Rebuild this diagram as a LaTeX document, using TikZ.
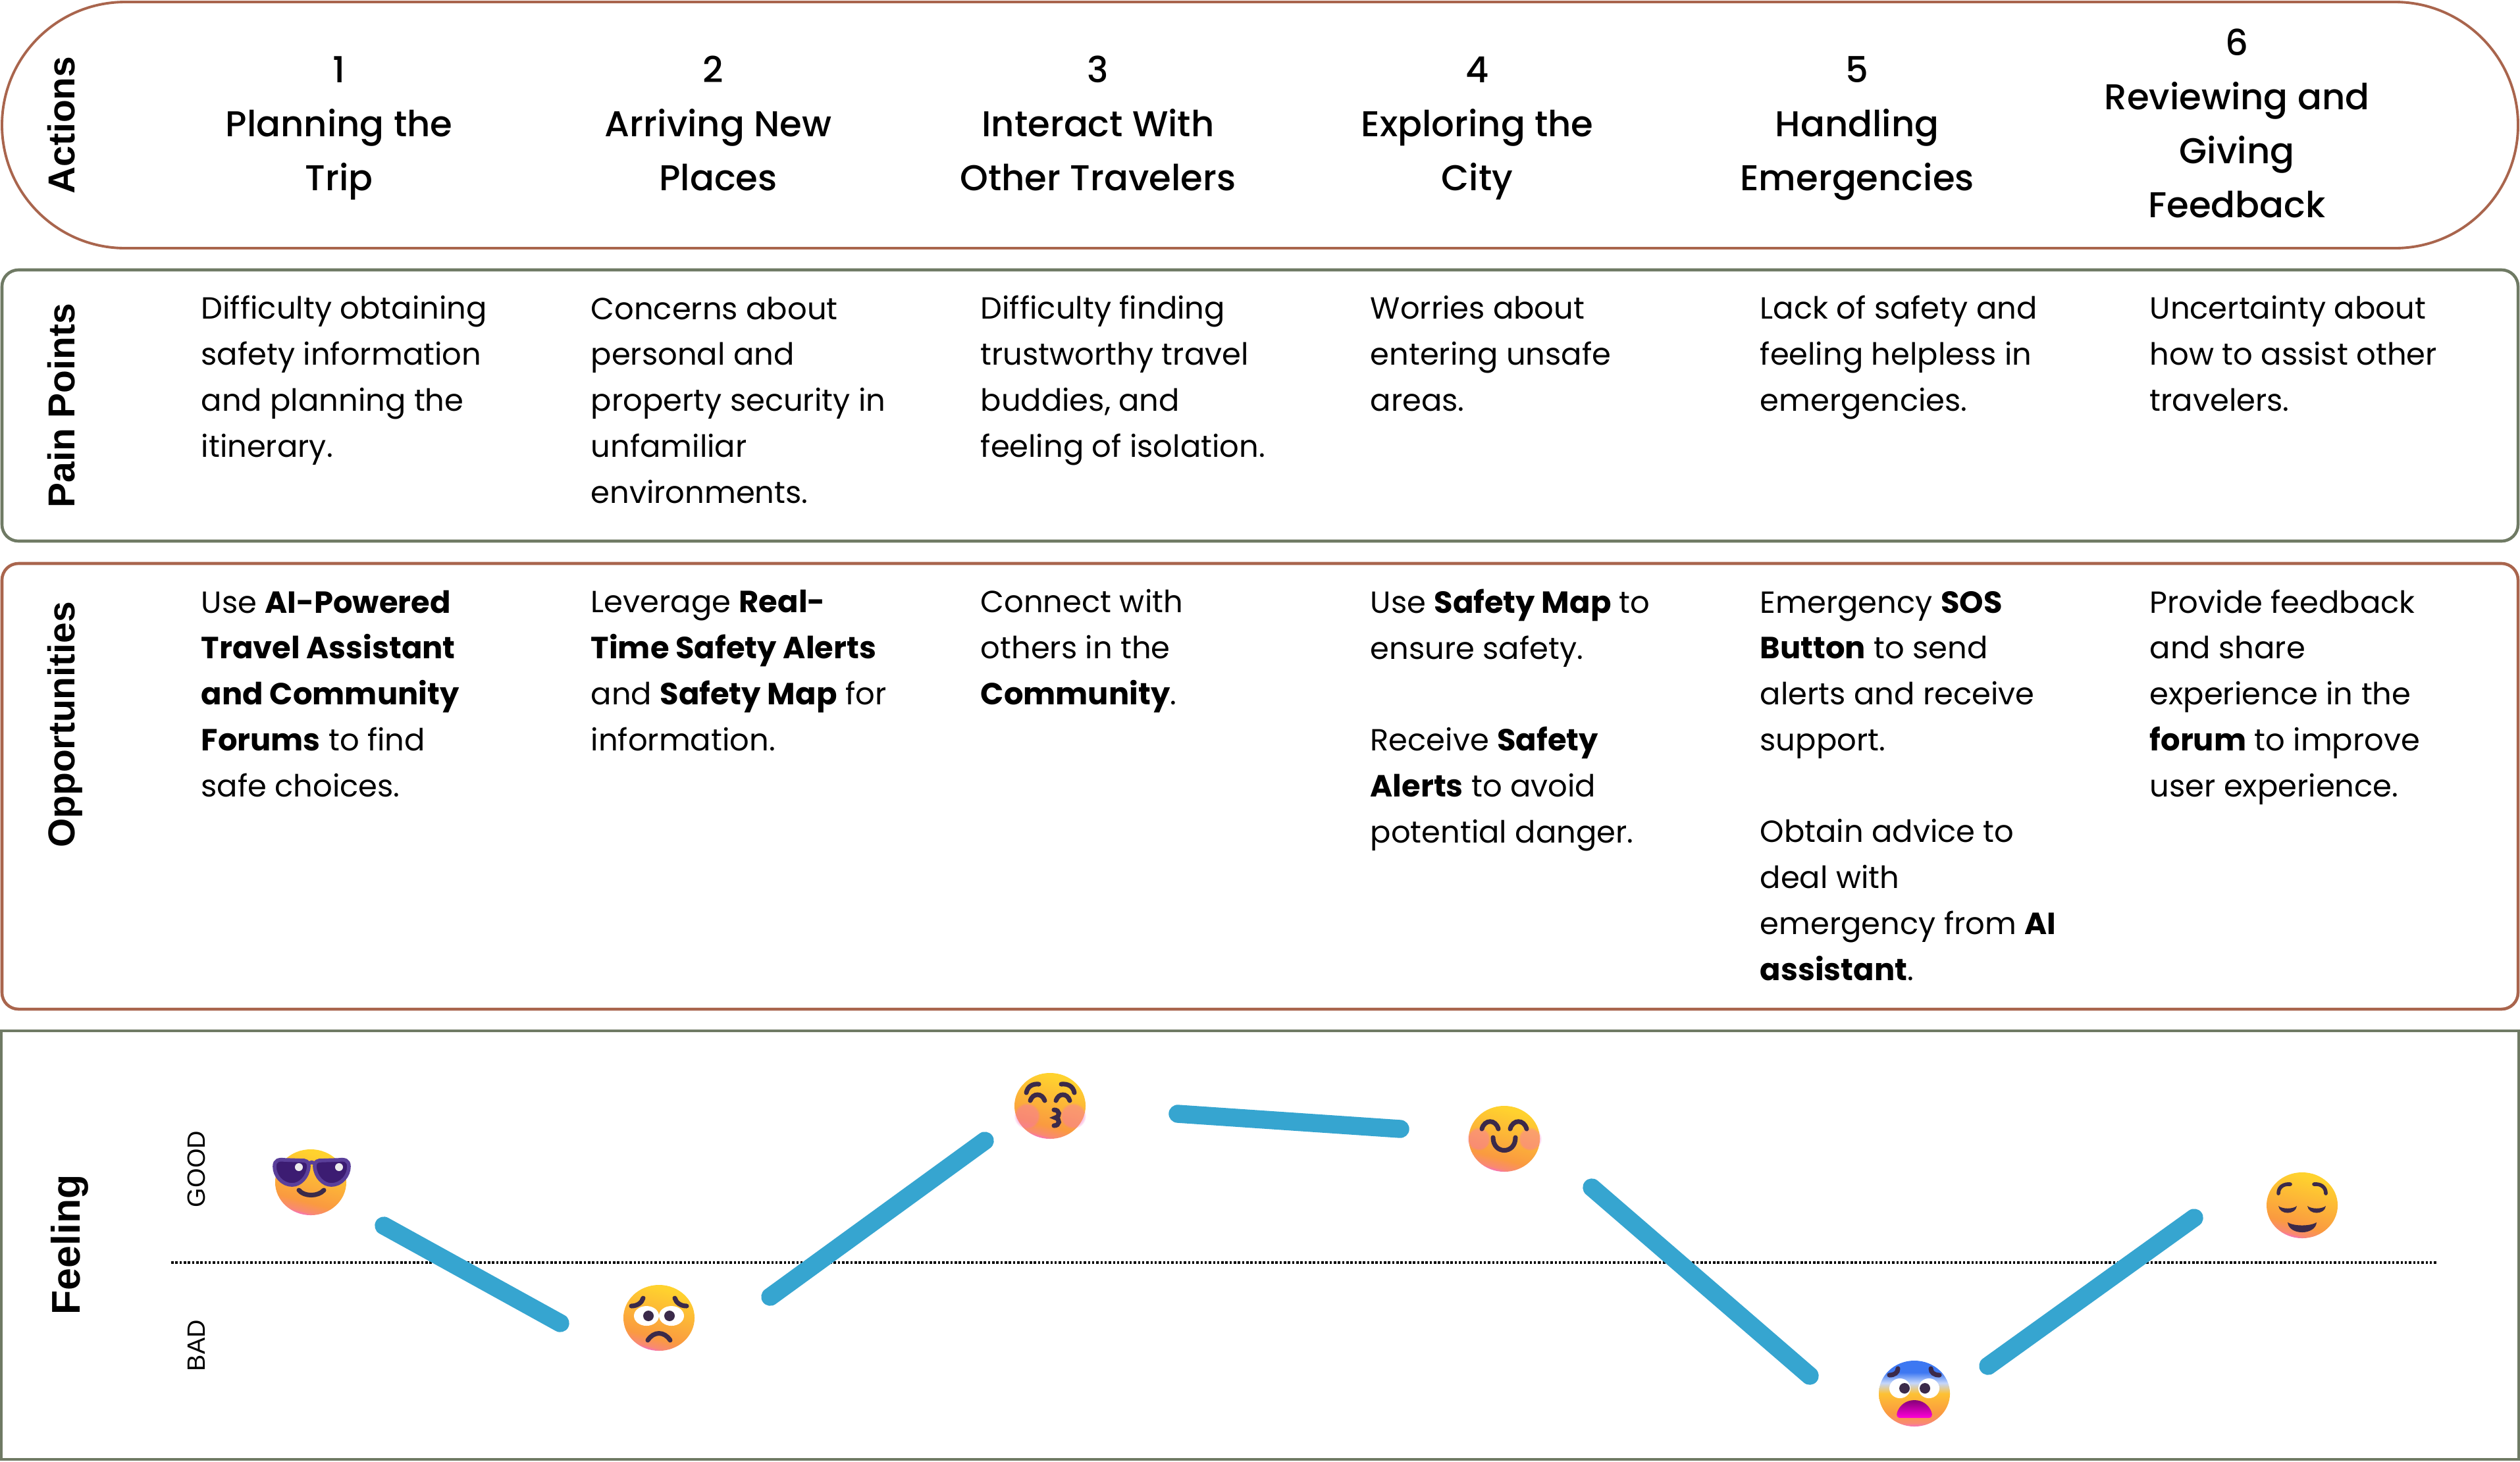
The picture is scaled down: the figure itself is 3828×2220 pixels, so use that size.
\documentclass[tikz,border=0pt]{standalone}
\usepackage{fontspec}
\setmainfont{Poppins}
\newfontfamily\lblfont{Liberation Sans}
\newfontfamily\headfont{Poppins Medium}
\usetikzlibrary{fadings}
\definecolor{brownline}{HTML}{A9654D}
\definecolor{greenline}{HTML}{6F7A64}
\definecolor{bluebar}{HTML}{36A5D0}
\definecolor{featdark}{HTML}{3B2A4A}
\definecolor{fyel}{HTML}{FFD22E}
\definecolor{forg}{HTML}{FA9A40}
\definecolor{fpink}{HTML}{F76FC0}
\definecolor{fblue}{HTML}{3D78F2}
\definecolor{lensdark}{HTML}{3C1C72}
\definecolor{lensframe}{HTML}{5A3F9A}
\pgfdeclareverticalshading{facegrad}{100bp}{color(0bp)=(fpink);color(25bp)=(fpink);color(27.5bp)=(forg!60!fpink);color(35bp)=(forg);color(72bp)=(fyel);color(100bp)=(fyel)}
\pgfdeclareverticalshading{feargrad}{100bp}{color(0bp)=(fpink);color(25bp)=(fpink);color(27.5bp)=(forg!60!fpink);color(35bp)=(forg);color(50bp)=(fyel!70!forg);color(58bp)=(fblue!30!white);color(66bp)=(fblue);color(100bp)=(fblue)}
\tikzset{
 x=0.01cm,y=-0.01cm,
 painbox/.style={draw=greenline,line width=1.3pt,rounded corners=0.25cm},
 oppbox/.style={draw=brownline,line width=1.3pt,rounded corners=0.25cm},
 feelbox/.style={draw=greenline,line width=1.3pt},
 head/.style={align=center,anchor=base,inner sep=0pt,font=\headfont\fontsize{15.5pt}{23.3pt}\selectfont},
 body/.style={align=left,inner sep=0pt,anchor=base west,font=\fontsize{13.2pt}{19.83pt}\selectfont},
 rowlabel/.style={rotate=90,anchor=base,inner sep=0pt,font=\lblfont\bfseries\fontsize{16.2pt}{17pt}\selectfont},
 axislabel/.style={rotate=90,anchor=base,inner sep=0pt,font=\lblfont\fontsize{10.8pt}{11pt}\selectfont},
 bar/.style={draw=bluebar,line width=7.8pt,line cap=round},
 feat/.style={draw=featdark,line width=2pt,line cap=round},
 lens/.style={draw=lensframe,line width=1.6pt,fill=lensdark},
 facebase/.style={shading=facegrad,shading angle=-15},
 softblush/.style={fill=fpink,opacity=.4,path fading=circle with fuzzy edge 20 percent},
 kissface/.pic={
  \shade[facebase] (0,0) ellipse [x radius=0.54cm,y radius=0.5cm];
  \fill[softblush] (-35,15) circle [radius=0.2cm];
  \fill[softblush] (35,15) circle [radius=0.2cm];
  \draw[feat] (-36,-20) .. controls (-34,-30) and (-26,-34) .. (-17,-33);
  \draw[feat] (37,-20) .. controls (35,-30) and (27,-34) .. (17,-33);
  \draw[feat] (-30,-8) .. controls (-26,-20) and (-12,-20) .. (-8,-8);
  \draw[feat] (9,-8) .. controls (13,-20) and (26,-20) .. (30,-8);
  \draw[feat] (6,6) .. controls (15,6) and (16,16) .. (8,18) .. controls (16,20) and (15,30) .. (6,30);
 },
 smileface/.pic={
  \shade[facebase] (0,0) ellipse [x radius=0.54cm,y radius=0.5cm];
  \fill[softblush] (-39,0) circle [radius=0.18cm];
  \fill[softblush] (39,0) circle [radius=0.18cm];
  \draw[feat] (-34,-15) .. controls (-30,-30) and (-13,-30) .. (-9,-15);
  \draw[feat] (9,-15) .. controls (13,-30) and (30,-30) .. (34,-15);
  \draw[feat] (-17,-2) .. controls (-17,24) and (17,24) .. (17,-2);
 },
 sleepface/.pic={
  \shade[facebase] (0,0) ellipse [x radius=0.54cm,y radius=0.5cm];
  \draw[feat,line width=1.6pt] (-36,-18) .. controls (-36,-28) and (-28,-33) .. (-18,-32);
  \draw[feat,line width=1.6pt] (36,-18) .. controls (36,-28) and (28,-33) .. (18,-32);
  \fill[featdark] (-36,1) .. controls (-30,6) and (-14,6) .. (-8,1) .. controls (-10,15) and (-34,15) .. (-36,1) -- cycle;
  \fill[featdark] (8,1) .. controls (14,6) and (30,6) .. (36,1) .. controls (34,15) and (10,15) .. (8,1) -- cycle;
  \fill[featdark] (-22,26) .. controls (-12,32) and (12,32) .. (22,26) .. controls (20,46) and (-20,46) .. (-22,26) -- cycle;
 },
 coolface/.pic={
  \shade[facebase] (0,0) ellipse [x radius=0.54cm,y radius=0.5cm];
  \draw[lens] (-55,-24) .. controls (-55,-34) and (-48,-35) .. (-40,-34) -- (-10,-33) .. controls (-4,-32) and (-3,-28) .. (-3,-24) .. controls (-4,-8) and (-16,4) .. (-28,4) .. controls (-44,4) and (-55,-10) .. (-55,-24) -- cycle;
  \draw[lens] (58,-24) .. controls (58,-34) and (51,-35) .. (43,-34) -- (13,-33) .. controls (7,-32) and (6,-28) .. (6,-24) .. controls (7,-8) and (19,4) .. (31,4) .. controls (47,4) and (58,-10) .. (58,-24) -- cycle;
  \draw[lens,fill=none] (-3,-28) .. controls (0,-31) and (3,-31) .. (6,-28);
  \fill[white!85!gray] (-18,-23) circle [radius=0.06cm];
  \fill[white!85!gray] (43,-23) circle [radius=0.06cm];
  \draw[feat] (-18,12) .. controls (-10,22) and (11,22) .. (20,12);
 },
 sadface/.pic={
  \shade[facebase] (0,0) ellipse [x radius=0.54cm,y radius=0.5cm];
  \draw[feat] (-42,-18) .. controls (-33,-18) and (-26,-23) .. (-24,-30);
  \draw[feat] (42,-18) .. controls (33,-18) and (26,-23) .. (24,-30);
  \fill[white] (-19,-3) ellipse [x radius=0.19cm,y radius=0.15cm];
  \fill[white] (19,-3) ellipse [x radius=0.19cm,y radius=0.15cm];
  \fill[featdark] (-16,-3) circle [radius=0.08cm];
  \fill[featdark] (16,-3) circle [radius=0.08cm];
  \draw[feat] (-17,34) .. controls (-8,20) and (8,20) .. (17,34);
 },
 fearface/.pic={
  \shade[shading=feargrad] (0,0) ellipse [x radius=0.54cm,y radius=0.5cm];
  \draw[feat] (-25,-38) .. controls (-25,-32) and (-30,-28) .. (-38,-28);
  \draw[feat] (25,-38) .. controls (25,-32) and (30,-28) .. (38,-28);
  \fill[white] (-22,-8) ellipse [x radius=0.16cm,y radius=0.15cm];
  \fill[white] (22,-8) ellipse [x radius=0.16cm,y radius=0.15cm];
  \fill[featdark] (-15,-8) circle [radius=0.08cm];
  \fill[featdark] (16,-8) circle [radius=0.08cm];
  \shade[top color=purple!70!blue,bottom color=magenta!85!red]
    (-22,37) .. controls (-26,37) and (-28,33) .. (-26,28) .. controls (-22,17) and (-12,10) .. (0,10) .. controls (12,10) and (22,17) .. (26,28) .. controls (28,33) and (26,37) .. (22,37) -- cycle;
 },
}
\begin{document}
\begin{tikzpicture}
\useasboundingbox (0,0) rectangle (3828,2220);
\path[fill=white] (0,0) rectangle (3828,2220);
% row boxes
\draw[draw=brownline,line width=1.1pt,rounded corners=1.87cm] (3,3) rectangle (3825,377);
\draw[painbox] (3,410) rectangle (3825,822);
\draw[oppbox] (3,856) rectangle (3825,1533);
\draw[feelbox] (2,1566) rectangle (3826,2217);
% row labels
\node[rowlabel] (lblA) at (113,190) {Actions};
\node[rowlabel] (lblP) at (113,616) {Pain Points};
\node[rowlabel] (lblO) at (113,1101) {Opportunities};
\node[rowlabel,font=\lblfont\bfseries\fontsize{17.3pt}{18pt}\selectfont] (lblF) at (121,1891) {Feeling};
\node[axislabel] (good) at (311,1776) {GOOD};
\node[axislabel] (bad) at (311,2044) {BAD};
% headers
\node[head] (h1) at (515,289) {1\\Planning the\\Trip};
\node[head] (h2) at (1091,289) {2\hspace*{4.2pt}\\Arriving New\\Places};
\node[head] (h3) at (1668,289) {3\\Interact With\\Other Travelers};
\node[head] (h4) at (2244,289) {4\\Exploring the\\City};
\node[head] (h5) at (2821,289) {5\\Handling\\Emergencies};
\node[head] (h6) at (3398,330) {6\\Reviewing and\\Giving\\Feedback};
% pain points
\node[body] (p1) at (305,694) {Difficulty obtaining\\safety information\\and planning the\\itinerary.};
\node[body] (p2) at (897,764) {Concerns about\\personal and\\property security in\\unfamiliar\\environments.};
\node[body] (p3) at (1489,694) {Difficulty finding\\trustworthy travel\\buddies, and\\feeling of isolation.};
\node[body] (p4) at (2081,624) {Worries about\\entering unsafe\\areas.};
\node[body] (p5) at (2673,624) {Lack of safety and\\feeling helpless in\\emergencies.};
\node[body] (p6) at (3265,624) {Uncertainty about\\how to assist other\\travelers.};
% opportunities
\node[body] (o1) at (305,1210) {Use \textbf{AI-Powered}\\\textbf{Travel Assistant}\\\textbf{and Community}\\\textbf{Forums} to find\\safe choices.};
\node[body] (o2) at (897,1140) {Leverage \textbf{Real-}\\\textbf{Time Safety Alerts}\\and \textbf{Safety Map} for\\information.};
\node[body] (o3) at (1489,1070) {Connect with\\others in the\\\textbf{Community}.};
\node[body] (o4) at (2081,1280) {Use \textbf{Safety Map} to\\ensure safety.\\[19.83pt]Receive \textbf{Safety}\\\textbf{Alerts} to avoid\\potential danger.};
\node[body] (o5) at (2673,1489) {Emergency \textbf{SOS}\\\textbf{Button} to send\\alerts and receive\\support.\\[19.83pt]Obtain advice to\\deal with\\emergency from \textbf{AI}\\\textbf{assistant}.};
\node[body] (o6) at (3265,1210) {Provide feedback\\and share\\experience in the\\\textbf{forum} to improve\\user experience.};
% baseline
\coordinate (axL) at (260,1918);
\coordinate (axR) at (3702,1918);
\draw[line width=1pt,dash pattern=on 1pt off 0.8pt] (axL) -- (axR);
% feeling bars
\coordinate (b1a) at (583,1862); \coordinate (b1b) at (851,2010);
\coordinate (b2a) at (1170,1970); \coordinate (b2b) at (1496,1733);
\coordinate (b3a) at (1789,1692); \coordinate (b3b) at (2127,1715);
\coordinate (b4a) at (2418,1804); \coordinate (b4b) at (2749,2090);
\coordinate (b5a) at (3020,2075); \coordinate (b5b) at (3333,1850);
\draw[bar] (b1a) -- (b1b);
\draw[bar] (b2a) -- (b2b);
\draw[bar] (b3a) -- (b3b);
\draw[bar] (b4a) -- (b4b);
\draw[bar] (b5a) -- (b5b);
% emoji
\pic at (472,1796) {coolface};
\pic at (1001,2002) {sadface};
\pic at (1595,1680) {kissface};
\pic at (2285,1730) {smileface};
\pic at (2908,2117) {fearface};
\pic at (3497,1831) {sleepface};
\end{tikzpicture}
\end{document}
